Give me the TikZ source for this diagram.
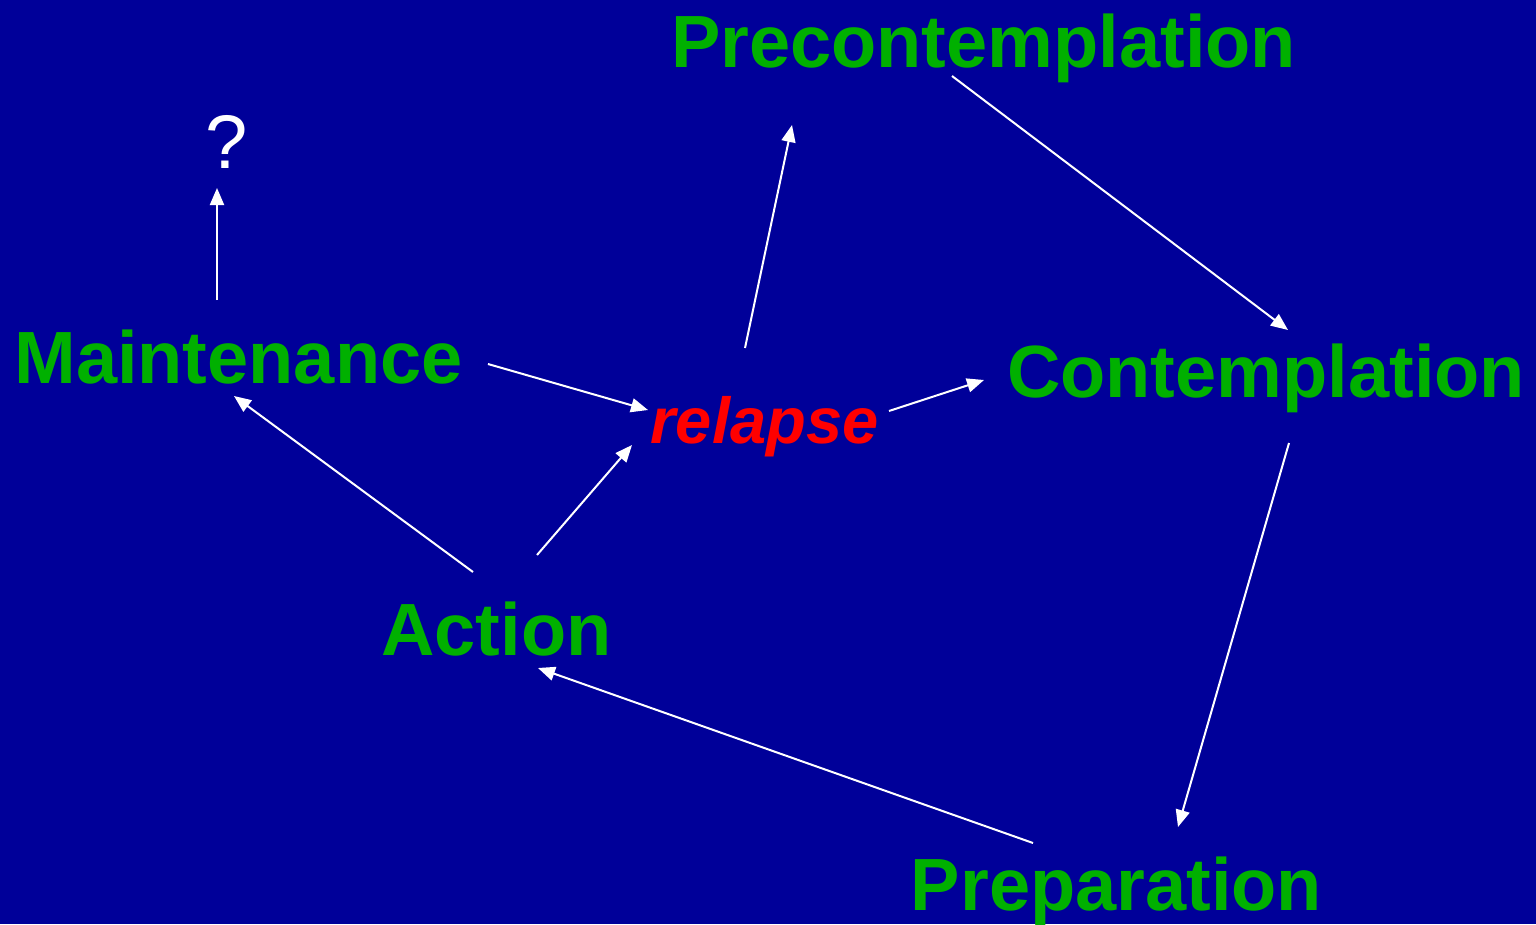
\documentclass[tikz,border=0pt]{standalone}
\usepackage{fontspec}
\setmainfont{Liberation Sans}
\usetikzlibrary{arrows.meta}
\definecolor{bgblue}{RGB}{0,0,153}
\definecolor{stagegreen}{RGB}{0,176,0}
\definecolor{relred}{RGB}{255,0,0}
\tikzset{
  stage/.style={anchor=base, inner sep=0pt, text=stagegreen, font=\fontsize{74}{80}\selectfont\bfseries},
  relnode/.style={anchor=base, inner sep=0pt, text=relred, font=\fontsize{65}{72}\selectfont\bfseries\itshape},
  qnode/.style={anchor=base, inner sep=0pt, text=white, font=\fontsize{76}{80}\selectfont},
  flow/.style={draw=white, line width=2pt, -{Triangle[length=17pt,width=14pt]}}
}
\begin{document}
\begin{tikzpicture}[x=1pt,y=-1pt]
\fill[bgblue] (0,0) rectangle (1536,924);
\useasboundingbox (0,0) rectangle (1536,924);
\node[stage] (pre) at (983.5,67) {Precontemplation};
\node[stage] (maint) at (238.5,383) {Maintenance};
\node[stage] (cont) at (1266,397) {Contemplation};
\node[relnode] (rel) at (764.5,443) {relapse};
\node[stage] (act) at (496.5,655) {Action};
\node[stage] (prep) at (1116.5,910) {Preparation};
\node[qnode] (q) at (227,168) {?};
\draw[flow] ([shift={(-31.5,9)}]pre.base) -- ([shift={(22,-67)}]cont.base);
\draw[flow] ([shift={(23,46)}]cont.base) -- ([shift={(61.5,-83)}]prep.base);
\draw[flow] ([shift={(-83.5,-67)}]prep.base) -- ([shift={(41.5,13)}]act.base);
\draw[flow] ([shift={(-23.5,-83)}]act.base) -- ([shift={(-4.5,13)}]maint.base);
\draw[flow] ([shift={(40.5,-100)}]act.base) -- ([shift={(-132.5,2)}]rel.base);
\draw[flow] ([shift={(249.5,-19)}]maint.base) -- ([shift={(-116.5,-33)}]rel.base);
\draw[flow] ([shift={(124.5,-32)}]rel.base) -- ([shift={(-282,-17)}]cont.base);
\draw[flow] ([shift={(-19.5,-95)}]rel.base) -- ([shift={(-191.5,58)}]pre.base);
\draw[flow] ([shift={(-21.5,-83)}]maint.base) -- ([shift={(-10,20)}]q.base);
\end{tikzpicture}
\end{document}
